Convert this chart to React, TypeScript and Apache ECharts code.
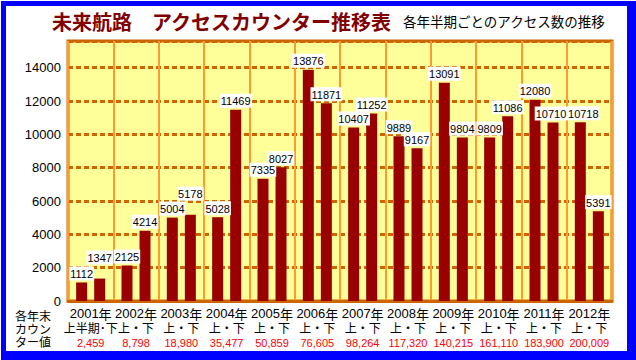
import React, { useEffect, useRef } from "react";
import * as echarts from "echarts";

const years = ["2001年", "2002年", "2003年", "2004年", "2005年", "2006年", "2007年", "2008年", "2009年", "2010年", "2011年", "2012年"];
const halves = ["上半期･下", "上・下", "上・下", "上・下", "上・下", "上・下", "上・下", "上・下", "上・下", "上・下", "上・下", "上・下"];
const totals = ["2,459", "8,798", "18,980", "35,477", "50,859", "76,605", "98,264", "117,320", "140,215", "161,110", "183,900", "200,009"];
const firstHalf = [1112, 2125, 5004, 5028, 7335, 13876, 10407, 9889, 13091, 9809, 12080, 10718];
const secondHalf = [1347, 4214, 5178, 11469, 8027, 11871, 11252, 9167, 9804, 11086, 10710, 5391];
const sideLabel = ["各年末", "カウン", "ター値"];

const FONT = "'Noto Sans CJK JP', sans-serif";
const NUM = "'Liberation Sans', Arial, sans-serif";

// label nudges that the reference uses to keep neighbouring labels apart
const firstShift: Record<number, [number, number]> = { 11: [3, 0] };
const secondShift: Record<number, [number, number]> = { 0: [0, -12], 2: [0, -12], 10: [-2, 0] };

export default function App() {
  const ref = useRef<HTMLDivElement>(null);
  useEffect(() => {
    if (!ref.current) return;
    const chart = echarts.init(ref.current, undefined, { renderer: "svg" });
    const barLabel = {
      show: true,
      position: "top",
      distance: 2,
      color: "#000",
      fontSize: 11,
      fontFamily: NUM,
      backgroundColor: "#fff",
      padding: [1, 1, 0, 1],
      lineHeight: 13,
    };
    const withShift = (vals: number[], shift: Record<number, [number, number]>) =>
      vals.map((v, i) => (shift[i] ? { value: v, label: { offset: shift[i] } } : v));
    chart.setOption({
      animation: false,
      backgroundColor: "transparent",
      textStyle: { fontFamily: FONT },
      grid: {
        left: 68,
        right: 24,
        top: 41,
        bottom: 59,
        show: true,
        backgroundColor: "#FFFF99",
        borderColor: "#CC6600",
        borderWidth: 3,
      },
      xAxis: {
        type: "category",
        data: years,
        axisTick: { show: false },
        axisLine: { lineStyle: { color: "#CC6600", width: 3 } },
        splitLine: { show: true, lineStyle: { color: "#FF9933", width: 2 } },
        axisLabel: {
          interval: 0,
          margin: 5,
          formatter: (_v: string, i: number) =>
            `{y|${years[i].replace("年", "")}}{k|年}\n{h|${halves[i]}}\n{c|${totals[i]}}`,
          rich: {
            y: { fontSize: 13, lineHeight: 14, color: "#000", fontFamily: NUM },
            k: { fontSize: 13, lineHeight: 14, color: "#000", fontFamily: FONT },
            h: { fontSize: 12, lineHeight: 15, color: "#000", fontFamily: FONT },
            c: { fontSize: 11, lineHeight: 15, color: "#FF0000", fontFamily: NUM },
          },
        },
      },
      yAxis: {
        type: "value",
        min: 0,
        max: 15600,
        interval: 2000,
        axisLine: { show: false },
        axisTick: { show: false },
        axisLabel: {
          color: "#000",
          fontSize: 13,
          margin: 7,
          fontFamily: NUM,
          showMaxLabel: false,
          formatter: (v: number) => String(v),
        },
        splitLine: { show: true, lineStyle: { color: "#CC6600", width: 3, type: [5, 3] } },
      },
      graphic: [
        {
          type: "text",
          left: 52,
          top: 11,
          style: {
            text: "未来航路　アクセスカウンター推移表",
            fill: "#800000",
            font: `bold 20px ${FONT}`,
            textShadowColor: "#6666AA",
            textShadowOffsetX: 1,
            textShadowOffsetY: 1,
            textShadowBlur: 0,
          },
        },
        {
          type: "text",
          left: 403,
          top: 14,
          style: { text: "各年半期ごとのアクセス数の推移", fill: "#000", font: `13.5px ${FONT}` },
        },
        ...sideLabel.map((t, i) => ({
          type: "text",
          left: 15,
          top: 309 + i * 13,
          style: { text: t, fill: "#000", font: `12px ${FONT}` },
        })),
      ],
      series: [
        {
          type: "bar",
          data: withShift(firstHalf, firstShift),
          barWidth: 11,
          barGap: "64%",
          itemStyle: { color: "#990000" },
          label: barLabel,
        },
        {
          type: "bar",
          data: withShift(secondHalf, secondShift),
          barWidth: 11,
          itemStyle: { color: "#990000" },
          label: barLabel,
        },
      ],
    });
    return () => chart.dispose();
  }, []);
  return (
    <div style={{ position: "fixed", left: 0, top: 0, width: 636, height: 360, background: "#fff" }}>
      <div style={{ position: "absolute", left: 1, top: 1, width: 635, height: 359, background: "#0000FF" }} />
      <div style={{ position: "absolute", left: 6, top: 6, width: 621, height: 345, background: "#fff" }} />
      <div ref={ref} style={{ position: "absolute", left: 0, top: 0, width: 636, height: 360 }} />
    </div>
  );
}
